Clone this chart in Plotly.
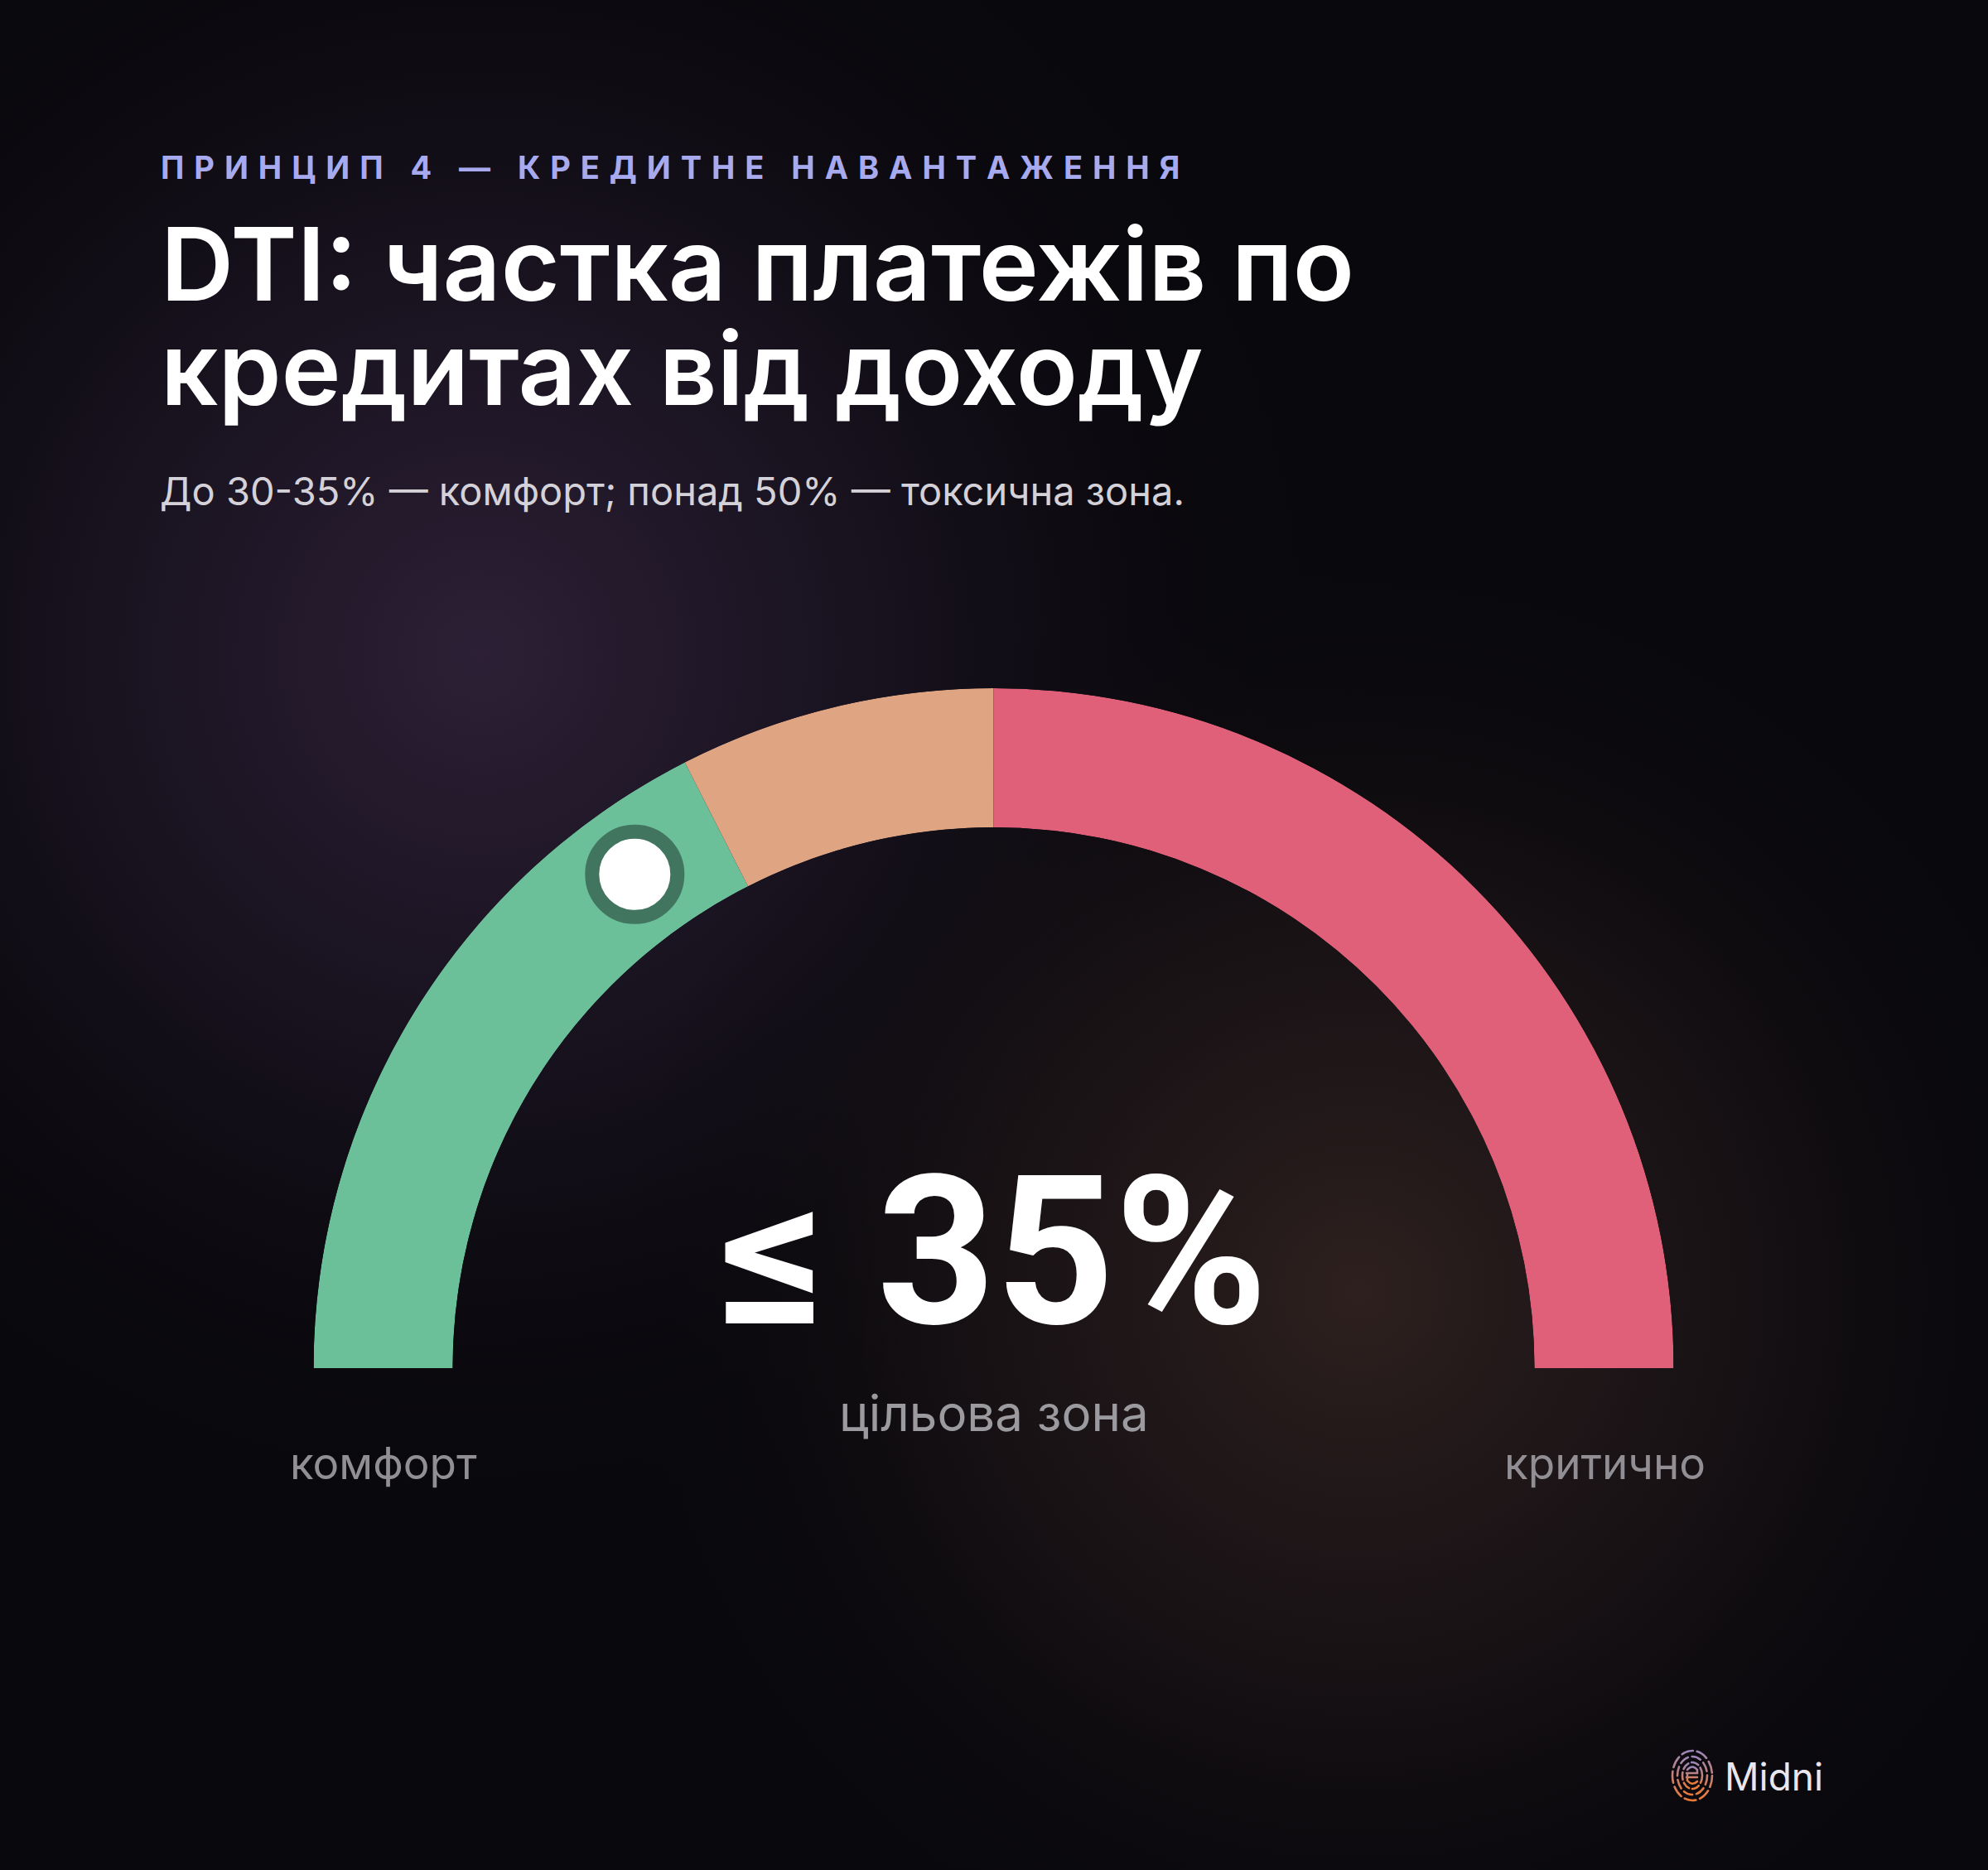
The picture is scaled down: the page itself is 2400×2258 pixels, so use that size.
import base64
import plotly.graph_objects as go

W, H = 2400, 2258

# ---------------- data ----------------
zone_names = ["комфорт", "межа", "критично"]
zone_start = [0, 35, 50]          # % DTI
zone_end = [35, 50, 100]          # % DTI
zone_colors = ["#6BBF99", "#DFA583", "#E0607A"]
marker_value = [30]               # % DTI position of the pointer
target_text = "≤ 35%"
target_label = "цільова зона"
left_label = "комфорт"
right_label = "критично"

eyebrow = "ПРИНЦИП 4 — КРЕДИТНЕ НАВАНТАЖЕННЯ"
title_lines = ["DTI: частка платежів по", "кредитах від доходу"]
subtitle = "До 30-35% — комфорт; понад 50% — токсична зона."
brand = "Midni"

# ---------------- geometry (pixels) ----------------
CX, CY = 1199.5, 1652
R_OUT, R_IN = 821, 653
FONT = "Inter, 'Noto Sans', sans-serif"
NUM_FONT = "Roboto, Inter, sans-serif"


def px(x):
    return x / W


def py(y):
    return 1 - y / H


# background as an SVG data URI (radial glows + logo icon)
svg = f"""<svg xmlns='http://www.w3.org/2000/svg' width='{W}' height='{H}' viewBox='0 0 {W} {H}'>
<defs>
<radialGradient id='g1' gradientUnits='userSpaceOnUse' cx='580' cy='790' r='1050'>
<stop offset='0' stop-color='#2d2036' stop-opacity='1'/>
<stop offset='0.45' stop-color='#1c1524' stop-opacity='0.8'/>
<stop offset='1' stop-color='#0a090e' stop-opacity='0'/>
</radialGradient>
<radialGradient id='g2' gradientUnits='userSpaceOnUse' cx='1640' cy='1560' r='900'>
<stop offset='0' stop-color='#2e201f' stop-opacity='1'/>
<stop offset='0.5' stop-color='#1e1618' stop-opacity='0.7'/>
<stop offset='1' stop-color='#0a090e' stop-opacity='0'/>
</radialGradient>
<linearGradient id='lg' x1='0' y1='0' x2='0' y2='1'>
<stop offset='0' stop-color='#9a86b8'/>
<stop offset='1' stop-color='#ea7a36'/>
</linearGradient>
</defs>
<rect width='{W}' height='{H}' fill='#09080c'/>
<rect width='{W}' height='{H}' fill='url(#g1)'/>
<rect width='{W}' height='{H}' fill='url(#g2)'/>
<g fill='none' stroke='url(#lg)' stroke-width='2.6' stroke-linecap='round'>
<ellipse cx='2043' cy='2144' rx='24' ry='30' stroke-dasharray='14 5'/>
<ellipse cx='2043' cy='2144' rx='18' ry='23' stroke-dasharray='11 5'/>
<ellipse cx='2043' cy='2144' rx='12' ry='16' stroke-dasharray='9 4'/>
<path d='M2037 2137 Q2043 2130 2049 2137 L2049 2141 L2036 2141 M2036 2146 L2049 2146 M2037 2141 L2037 2150 Q2043 2157 2049 2151'/>
</g>
</svg>"""
bg_uri = "data:image/svg+xml;base64," + base64.b64encode(svg.encode("utf-8")).decode()

fig = go.Figure()

# gauge zones
thetas = [(s + e) / 2 * 1.8 for s, e in zip(zone_start, zone_end)]
widths = [(e - s) * 1.8 for s, e in zip(zone_start, zone_end)]
fig.add_trace(go.Barpolar(
    r=[1] * len(zone_start), theta=thetas, width=widths, base=0,
    marker=dict(color=zone_colors, line=dict(width=0)),
    text=zone_names, hoverinfo="text", showlegend=False,
))

# pointer
fig.add_trace(go.Scatterpolar(
    r=[0.5] * len(marker_value), theta=[v * 1.8 for v in marker_value],
    mode="markers", cliponaxis=False,
    marker=dict(size=103, color="#FFFFFF", line=dict(width=17, color="#41755F")),
    showlegend=False, hoverinfo="skip",
))

fig.update_layout(
    width=W, height=H, margin=dict(l=0, r=0, t=0, b=0),
    paper_bgcolor="#09080c", plot_bgcolor="rgba(0,0,0,0)",
    showlegend=False,
    polar=dict(
        domain=dict(x=[px(CX - R_OUT), px(CX + R_OUT)], y=[1 - (CY) / H, 1 - (CY - R_OUT) / H]),
        sector=[0, 180], hole=R_IN / R_OUT, bgcolor="rgba(0,0,0,0)",
        angularaxis=dict(rotation=180, direction="clockwise", visible=False,
                         showgrid=False),
        radialaxis=dict(range=[0, 1], visible=False, showgrid=False),
    ),
    images=[dict(source=bg_uri, xref="paper", yref="paper", x=0, y=1,
                 sizex=1, sizey=1, xanchor="left", yanchor="top",
                 sizing="stretch", layer="below")],
)


def ann(text, x, y, size, color, weight=400, xanchor="left", family=FONT, height=None):
    fig.add_annotation(
        text=text, x=px(x), y=py(y), xref="paper", yref="paper",
        xanchor=xanchor, yanchor="middle", showarrow=False,
        borderpad=0, borderwidth=0, height=height,
        font=dict(family=family, size=size, color=color, weight=weight),
    )


spaced = "\u2009\u200a\u200a".join(list(eyebrow))
ann(spaced, 194, 202, 38, "#A8AAF0", 700, height=50)
ann(title_lines[0], 194, 318, 122, "#FFFFFF", 600)
ann(title_lines[1], 194, 445, 122, "#FFFFFF", 600)
ann(subtitle, 193, 592, 47, "#D4D2D8", 400)

ann(target_text, CX, 1512, 250, "#FFFFFF", 700, "center", NUM_FONT)
ann(target_label, CX, 1706, 60, "#9B9A9F", 400, "center")
ann(left_label, 463, 1767, 53, "#918F94", 400, "center")
ann(right_label, 1937, 1767, 53, "#918F94", 400, "center")
ann(brand, 2082, 2145, 46, "#E8E6EE", 400)

fig.write_html(
    "out.html",
    config={"displayModeBar": False},
    post_script="document.body.style.margin='0';document.body.style.overflow='hidden';"
                "document.body.style.background='#09080c';",
)
